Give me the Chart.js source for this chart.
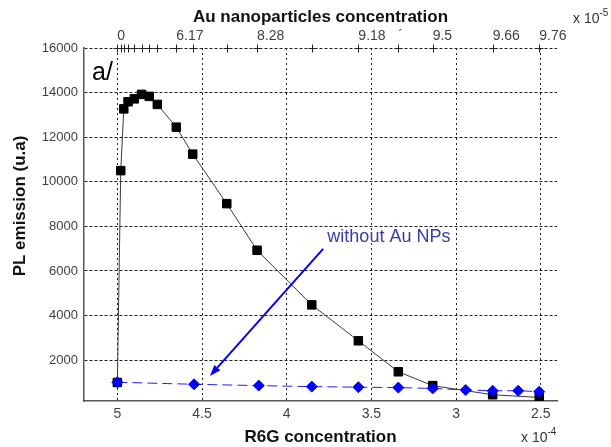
<!DOCTYPE html>
<html><head><meta charset="utf-8">
<script src="https://cdn.jsdelivr.net/npm/chart.js@4.4.0/dist/chart.umd.min.js"></script>
<style>html,body{margin:0;padding:0;background:#fff}</style>
</head><body>
<canvas id="c" width="611" height="447"></canvas>
<script>
// R6G concentration (x 10^-4) and PL emission (u.a)
const r6gWithAu = [5.0, 4.98, 4.962, 4.937, 4.90, 4.857, 4.812, 4.764, 4.652, 4.555, 4.354, 4.175, 3.852, 3.577, 3.341, 3.138, 2.784, 2.509];
const plWithAu  = [1000, 10500, 13270, 13590, 13720, 13920, 13830, 13470, 12450, 11240, 9020, 6930, 4480, 2870, 1480, 860, 450, 330];
const r6gWithoutAu = [5.0, 4.547, 4.165, 3.852, 3.577, 3.341, 3.138, 2.943, 2.784, 2.633, 2.509];
const plWithoutAu  = [1010, 920, 860, 815, 790, 770, 735, 665, 630, 630, 590];
// axis ticks
const r6gTicks = [5, 4.5, 4, 3.5, 3, 2.5];
const plTicks = [2000, 4000, 6000, 8000, 10000, 12000, 14000, 16000];
// Au nanoparticle concentration (x 10^-5) top axis: tick positions and labels
const auTickPositions = r6gWithAu;
const auTickLabels = ["0","","","","","","","","6.17","","","8.28","","9.18","\u00b4","9.5","9.66","9.76"];

const FONT = "'Liberation Sans', Arial, sans-serif";
const toPts = (xs, ys) => xs.map((x, i) => ({x, y: ys[i]}));

const decor = {
  id: 'decor',
  afterDatasetsDraw(chart) {
    const ctx = chart.ctx, xs = chart.scales.x, ys = chart.scales.y, x2 = chart.scales.x2, ca = chart.chartArea;
    ctx.save();
    // crosses on top axis
    ctx.strokeStyle = '#222'; ctx.lineWidth = 1;
    x2.ticks.forEach(t => {
      const px = Math.round(x2.getPixelForValue(t.value)) + 0.5;
      const py = Math.round(ca.top) + 0.5;
      ctx.beginPath();
      ctx.moveTo(px, py - 4); ctx.lineTo(px, py + 4);
      ctx.moveTo(px - 4, py); ctx.lineTo(px + 4, py);
      ctx.stroke();
    });
    // arrow
    const tx = xs.getPixelForValue(3.785), ty = ys.getPixelForValue(6990);
    const hx = xs.getPixelForValue(4.453), hy = ys.getPixelForValue(1296);
    ctx.strokeStyle = '#0000ff'; ctx.fillStyle = '#0000ff'; ctx.lineWidth = 2;
    const ang = Math.atan2(hy - ty, hx - tx);
    const L = 11, W = 4;
    const bx = hx - L * Math.cos(ang), by = hy - L * Math.sin(ang);
    ctx.beginPath(); ctx.moveTo(tx, ty); ctx.lineTo(bx, by); ctx.stroke();
    ctx.beginPath();
    ctx.moveTo(hx, hy);
    ctx.lineTo(bx + W * Math.sin(ang), by - W * Math.cos(ang));
    ctx.lineTo(bx - W * Math.sin(ang), by + W * Math.cos(ang));
    ctx.closePath(); ctx.fill();
    // annotation text
    ctx.fillStyle = '#3a3aa8';
    ctx.font = '18px ' + FONT;
    ctx.textAlign = 'left'; ctx.textBaseline = 'middle';
    ctx.fillText('without Au NPs', xs.getPixelForValue(3.76), ys.getPixelForValue(7530));
    ctx.restore();
  },
  afterDraw(chart) {
    const ctx = chart.ctx, ca = chart.chartArea;
    ctx.save();
    ctx.fillStyle = '#000';
    ctx.font = '25px ' + FONT;
    ctx.textAlign = 'left'; ctx.textBaseline = 'alphabetic';
    ctx.fillText('a/', ca.left + 8, ca.top + 32);
    ctx.fillStyle = '#111';
    ctx.font = 'bold 17px ' + FONT;
    ctx.textAlign = 'center'; ctx.textBaseline = 'middle';
    ctx.fillText('Au nanoparticles concentration', (ca.left + ca.right) / 2, 17);
    ctx.fillText('R6G concentration', (ca.left + ca.right) / 2, 437);
    ctx.save();
    ctx.translate(20, 206); ctx.rotate(-Math.PI / 2);
    ctx.fillText('PL emission (u.a)', 0, 0);
    ctx.restore();
    // multipliers
    const mult = (x, y, exp) => {
      ctx.fillStyle = '#333';
      ctx.textAlign = 'left'; ctx.textBaseline = 'middle';
      ctx.font = '14px ' + FONT;
      ctx.fillText('x 10', x, y);
      const w = ctx.measureText('x 10').width;
      ctx.font = '10px ' + FONT;
      ctx.fillText(exp, x + w, y - 6);
    };
    mult(573, 19, '-5');
    mult(521, 438, '-4');
    ctx.restore();
  }
};

new Chart(document.getElementById('c'), {
  type: 'scatter',
  data: {
    datasets: [
      {
        label: 'without Au NPs',
        data: toPts(r6gWithoutAu, plWithoutAu),
        showLine: true,
        borderColor: '#1f1fff', borderWidth: 1, borderDash: [10, 5],
        pointStyle: 'rectRot', pointRadius: 5.5, pointBackgroundColor: '#0000ff', pointBorderColor: '#0000ff', pointBorderWidth: 1,
        xAxisID: 'x', yAxisID: 'y'
      },
      {
        label: 'with Au NPs',
        data: toPts(r6gWithAu, plWithAu),
        showLine: true,
        borderColor: '#3a3a3a', borderWidth: 1,
        pointStyle: 'rect', pointRadius: 6, pointBackgroundColor: '#000', pointBorderColor: '#000', pointBorderWidth: 1,
        xAxisID: 'x', yAxisID: 'y'
      }
    ]
  },
  options: {
    responsive: false, animation: false, devicePixelRatio: 1,
    layout: { padding: { left: 0, right: 54, top: 0, bottom: 0 } },
    plugins: { legend: { display: false }, tooltip: { enabled: false } },
    scales: {
      x: {
        type: 'linear', position: 'bottom', reverse: true, min: 2.404, max: 5.197,
        afterBuildTicks: s => { s.ticks = r6gTicks.map(v => ({value: v})); },
        afterFit: s => { s.height = 46; },
        grid: { color: '#222', lineWidth: 1, drawTicks: false },
        border: { display: true, color: '#555', width: 1.5, dash: [2, 3] },
        ticks: { color: '#404040', font: { family: FONT, size: 14 }, padding: 5, autoSkip: false, maxRotation: 0,
                 callback: v => String(v) }
      },
      x2: {
        type: 'linear', position: 'top', reverse: true, min: 2.404, max: 5.197,
        afterBuildTicks: s => { s.ticks = auTickPositions.map(v => ({value: v})); },
        afterFit: s => { s.height = 48; },
        grid: { display: false, drawOnChartArea: false, drawTicks: false },
        border: { display: false },
        ticks: { color: '#404040', font: { family: FONT, size: 14 }, padding: 3, autoSkip: false, maxRotation: 0, align: 'start',
                 callback: (v, i) => auTickLabels[i] }
      },
      y: {
        type: 'linear', position: 'left', min: 170, max: 16000,
        afterBuildTicks: s => { s.ticks = plTicks.map(v => ({value: v})); },
        afterFit: s => { s.width = 84; },
        grid: { color: '#222', lineWidth: 1, drawTicks: false },
        border: { display: true, color: '#555', width: 1.5, dash: [3, 2] },
        ticks: { color: '#404040', font: { family: FONT, size: 13 }, padding: 6, autoSkip: false,
                 callback: v => String(v) }
      }
    }
  },
  plugins: [decor]
});
</script>
</body></html>
